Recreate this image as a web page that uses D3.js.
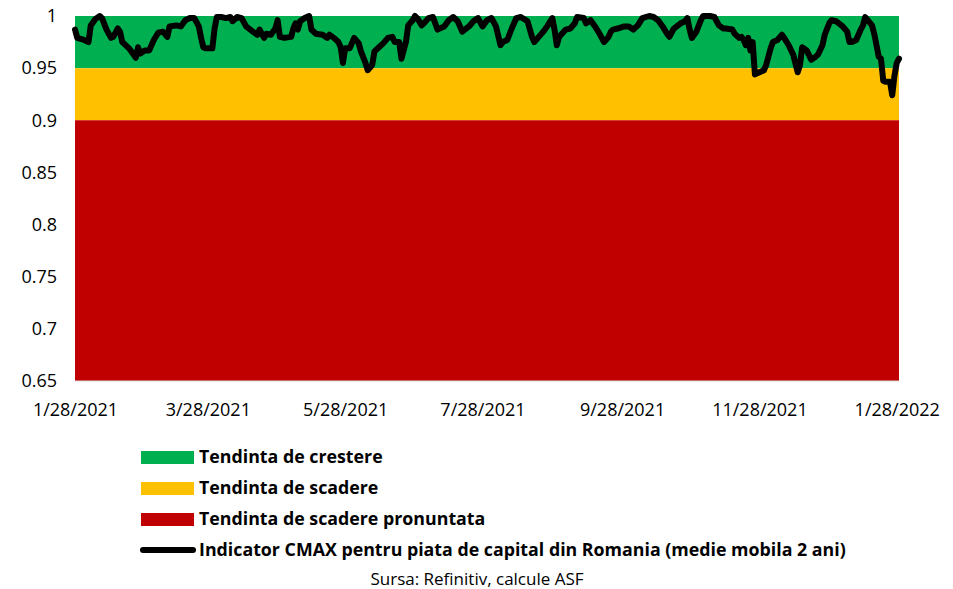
<!DOCTYPE html>
<html>
<head>
<meta charset="utf-8">
<script src="https://cdn.jsdelivr.net/npm/d3@7"></script>
<style>
  body { margin: 0; background: #fff; }
  svg text { font-family: "Open Sans", "Liberation Sans", sans-serif; fill: #000; }
</style>
</head>
<body>
<svg id="chart" width="953" height="589"></svg>
<script>
// Indicator CMAX - piata de capital Romania (medie mobila 2 ani)
const dates = [
  "2021-01-28","2021-01-29","2021-02-01","2021-02-03","2021-02-04","2021-02-06","2021-02-08","2021-02-09","2021-02-11","2021-02-13",
  "2021-02-14","2021-02-16","2021-02-17","2021-02-18","2021-02-21","2021-02-23","2021-02-24","2021-02-25","2021-02-26","2021-02-28",
  "2021-03-02","2021-03-04","2021-03-06","2021-03-08","2021-03-10","2021-03-11","2021-03-14","2021-03-16","2021-03-18","2021-03-20",
  "2021-03-22","2021-03-24","2021-03-25","2021-03-26","2021-03-27","2021-03-30","2021-03-31","2021-04-01","2021-04-03","2021-04-05",
  "2021-04-07","2021-04-08","2021-04-10","2021-04-12","2021-04-14","2021-04-17","2021-04-19","2021-04-20","2021-04-22","2021-04-23",
  "2021-04-25","2021-04-27","2021-04-28","2021-04-29","2021-05-01","2021-05-04","2021-05-05","2021-05-06","2021-05-07","2021-05-08",
  "2021-05-10","2021-05-12","2021-05-13","2021-05-15","2021-05-18","2021-05-20","2021-05-21","2021-05-23","2021-05-25","2021-05-26",
  "2021-05-27","2021-05-28","2021-05-30","2021-06-01","2021-06-03","2021-06-04","2021-06-06","2021-06-07","2021-06-09","2021-06-10",
  "2021-06-12","2021-06-14","2021-06-16","2021-06-18","2021-06-19","2021-06-21","2021-06-22","2021-06-24","2021-06-25","2021-06-27",
  "2021-06-28","2021-06-29","2021-07-01","2021-07-02","2021-07-04","2021-07-06","2021-07-08","2021-07-11","2021-07-13","2021-07-15",
  "2021-07-17","2021-07-19","2021-07-22","2021-07-24","2021-07-26","2021-07-28","2021-07-30","2021-08-01","2021-08-03","2021-08-05",
  "2021-08-06","2021-08-08","2021-08-10","2021-08-12","2021-08-14","2021-08-17","2021-08-19","2021-08-20","2021-08-22","2021-08-24",
  "2021-08-26","2021-08-28","2021-08-29","2021-08-30","2021-08-31","2021-09-03","2021-09-05","2021-09-07","2021-09-08","2021-09-11",
  "2021-09-12","2021-09-14","2021-09-16","2021-09-18","2021-09-20","2021-09-22","2021-09-23","2021-09-24","2021-09-26","2021-09-29",
  "2021-10-01","2021-10-03","2021-10-05","2021-10-07","2021-10-10","2021-10-12","2021-10-14","2021-10-16","2021-10-18","2021-10-19",
  "2021-10-21","2021-10-24","2021-10-26","2021-10-27","2021-10-28","2021-10-29","2021-10-31","2021-11-02","2021-11-03","2021-11-06",
  "2021-11-08","2021-11-10","2021-11-12","2021-11-13","2021-11-16","2021-11-17","2021-11-19","2021-11-20","2021-11-21","2021-11-22",
  "2021-11-23","2021-11-24","2021-11-25","2021-11-26","2021-11-28","2021-11-30","2021-12-01","2021-12-03","2021-12-04","2021-12-06",
  "2021-12-08","2021-12-09","2021-12-11","2021-12-13","2021-12-15","2021-12-16","2021-12-17","2021-12-19","2021-12-21","2021-12-23",
  "2021-12-24","2021-12-26","2021-12-27","2021-12-29","2021-12-30","2022-01-01","2022-01-04","2022-01-06","2022-01-07","2022-01-08",
  "2022-01-10","2022-01-12","2022-01-13","2022-01-14","2022-01-17","2022-01-18","2022-01-20","2022-01-21","2022-01-22","2022-01-23",
  "2022-01-25","2022-01-26","2022-01-27","2022-01-28","2022-01-29"
];
const cmax = [
  0.987,0.979,0.977,0.975,0.991,0.997,1.000,0.998,0.987,0.979,
  0.980,0.988,0.985,0.975,0.969,0.963,0.960,0.970,0.964,0.967,
  0.967,0.977,0.984,0.985,0.980,0.990,0.991,0.990,0.996,0.998,
  0.998,0.990,0.979,0.970,0.969,0.969,0.988,0.999,0.999,0.998,
  0.999,0.995,0.999,0.998,0.990,0.985,0.982,0.987,0.979,0.983,
  0.982,0.988,0.996,0.980,0.979,0.980,0.988,0.993,0.987,0.995,
  0.998,1.000,0.987,0.983,0.982,0.979,0.982,0.979,0.975,0.970,
  0.955,0.969,0.969,0.979,0.974,0.966,0.955,0.948,0.953,0.966,
  0.970,0.974,0.979,0.980,0.975,0.975,0.959,0.975,0.991,0.996,
  1.000,0.998,0.991,0.993,0.998,0.999,0.987,0.990,0.996,0.999,
  0.995,0.985,0.990,0.995,0.998,0.990,0.996,0.998,0.990,0.972,
  0.975,0.977,0.988,0.998,0.999,0.995,0.980,0.975,0.980,0.985,
  0.991,0.998,0.987,0.972,0.980,0.987,0.988,0.993,0.999,0.998,
  0.993,0.996,0.990,0.983,0.975,0.980,0.985,0.987,0.988,0.990,
  0.990,0.987,0.991,0.998,1.000,0.999,0.996,0.990,0.983,0.980,
  0.988,0.993,0.995,0.998,0.987,0.979,0.985,0.996,1.000,1.000,
  0.999,0.991,0.988,0.988,0.987,0.983,0.979,0.980,0.977,0.972,
  0.979,0.967,0.975,0.944,0.946,0.948,0.953,0.969,0.975,0.977,
  0.982,0.979,0.972,0.963,0.946,0.953,0.970,0.967,0.958,0.961,
  0.963,0.972,0.982,0.993,0.996,0.995,0.990,0.985,0.975,0.975,
  0.977,0.987,0.991,0.999,0.991,0.983,0.961,0.959,0.938,0.937,
  0.937,0.924,0.943,0.955,0.959
];

// zone bands (lower, upper)
const bandNames = ["Tendinta de crestere", "Tendinta de scadere", "Tendinta de scadere pronuntata"];
const bandLow = [0.95, 0.9, 0.65];
const bandHigh = [1, 0.95, 0.9];
const bandColors = ["#00B050", "#FFC000", "#C00000"];

const lineName = "Indicator CMAX pentru piata de capital din Romania (medie mobila 2 ani)";
const xTicks = ["2021-01-28","2021-03-28","2021-05-28","2021-07-28","2021-09-28","2021-11-28","2022-01-28"];
const yTicks = [0.65, 0.7, 0.75, 0.8, 0.85, 0.9, 0.95, 1];
const xDomain = ["2021-01-28", "2022-01-29"];
const source = "Sursa: Refinitiv, calcule ASF";

const parse = d3.timeParse("%Y-%m-%d");
const data = dates.map((d, i) => ({ date: parse(d), value: cmax[i] }));

const svg = d3.select("#chart");
const margin = { top: 16, left: 75, right: 54, bottom: 208 };
const width = 953 - margin.left - margin.right,
      height = 589 - margin.top - margin.bottom;

const x = d3.scaleTime()
  .domain(xDomain.map(parse))
  .range([margin.left, margin.left + width]);
const y = d3.scaleLinear()
  .domain([0.65, 1])
  .range([margin.top + height, margin.top]);

// zone areas
const bandArea = (lo, hi) => d3.area()
  .x(d => x(d))
  .y0(y(lo))
  .y1(y(hi));
bandNames.forEach((n, i) => {
  svg.append("path")
    .datum(x.domain())
    .attr("d", bandArea(bandLow[i], bandHigh[i]))
    .attr("fill", bandColors[i]);
});

// bottom axis line
svg.append("line")
  .attr("x1", x.range()[0]).attr("x2", x.range()[1])
  .attr("y1", y(0.65)).attr("y2", y(0.65))
  .attr("stroke", "#d9d9d9").attr("stroke-width", 1);

// CMAX line
svg.append("path")
  .datum(data)
  .attr("fill", "none")
  .attr("stroke", "#000")
  .attr("stroke-width", 6)
  .attr("stroke-linejoin", "round")
  .attr("stroke-linecap", "round")
  .attr("d", d3.line().x(d => x(d.date)).y(d => y(d.value)));

// axes
const yAxis = svg.append("g")
  .attr("transform", "translate(" + margin.left + ",0)")
  .call(d3.axisLeft(y).tickValues(yTicks).tickSize(0).tickPadding(18).tickFormat(d => String(d)));
yAxis.select(".domain").remove();
yAxis.selectAll("text").style("font-size", "18px").attr("font-family", null);

const xAxis = svg.append("g")
  .attr("transform", "translate(0," + (margin.top + height) + ")")
  .call(d3.axisBottom(x).tickValues(xTicks.map(parse)).tickSize(0).tickPadding(22).tickFormat(d3.timeFormat("%-m/%-d/%Y")));
xAxis.select(".domain").remove();
xAxis.selectAll("text").style("font-size", "18px").attr("font-family", null);

// legend
const legend = svg.append("g").attr("transform", "translate(141,0)");
const rowY = [457, 488, 519, 550];
bandNames.forEach((n, i) => {
  legend.append("rect")
    .attr("x", 0).attr("y", rowY[i] - 6)
    .attr("width", 53).attr("height", 13)
    .attr("fill", bandColors[i]);
  legend.append("text")
    .attr("x", 58).attr("y", rowY[i]).attr("dy", "0.35em")
    .style("font-size", "17.8px").style("font-weight", "bold")
    .text(n);
});
legend.append("line")
  .attr("x1", 2).attr("x2", 52)
  .attr("y1", rowY[3]).attr("y2", rowY[3])
  .attr("stroke", "#000").attr("stroke-width", 6).attr("stroke-linecap", "round");
legend.append("text")
  .attr("x", 58).attr("y", rowY[3]).attr("dy", "0.35em")
  .style("font-size", "17.8px").style("font-weight", "bold")
  .text(lineName);

svg.append("text")
  .attr("x", 477).attr("y", 579).attr("dy", "0.35em")
  .attr("text-anchor", "middle")
  .style("font-size", "17px")
  .text(source);
</script>
</body>
</html>
